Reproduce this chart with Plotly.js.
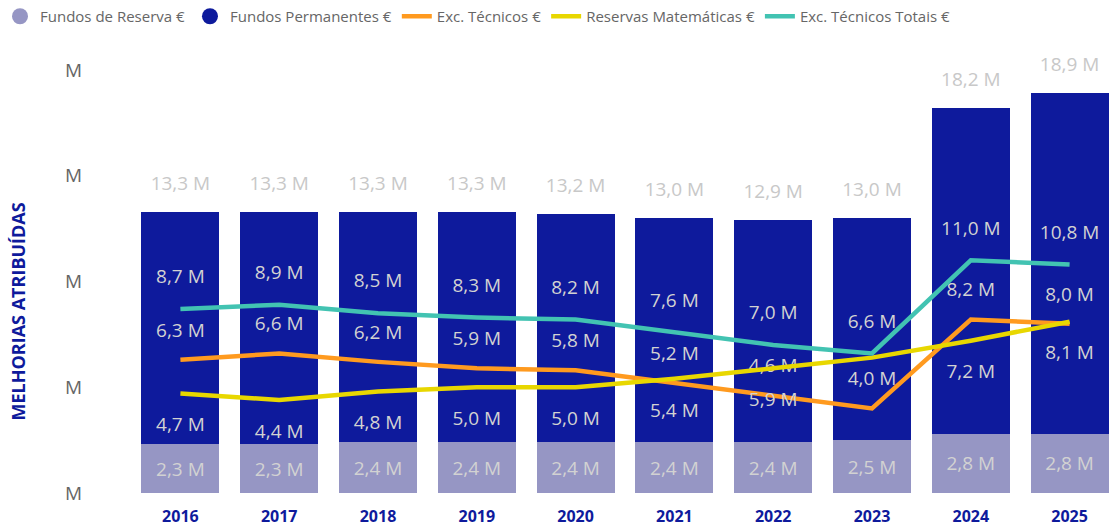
<!DOCTYPE html>
<html>
<head>
<meta charset="utf-8">
<script src="https://cdn.plot.ly/plotly-3.0.1.min.js"></script>
<style>html,body{margin:0;padding:0;background:#fff;}#chart{width:1119px;height:531px;}</style>
</head>
<body>
<div id="chart"></div>
<script>
const years = ['2016','2017','2018','2019','2020','2021','2022','2023','2024','2025'];
const fundosReserva = [2.3, 2.3, 2.4, 2.4, 2.4, 2.4, 2.4, 2.5, 2.8, 2.8];
const fundosPermanentes = [11.0, 11.0, 10.9, 10.9, 10.8, 10.6, 10.5, 10.5, 15.4, 16.1];
const totais = [13.3, 13.3, 13.3, 13.3, 13.2, 13.0, 12.9, 13.0, 18.2, 18.9];
const excTecnicos = [6.3, 6.6, 6.2, 5.9, 5.8, 5.2, 4.6, 4.0, 8.2, 8.0];
const reservasMatematicas = [4.7, 4.4, 4.8, 5.0, 5.0, 5.4, 5.9, 6.4, 7.2, 8.1];
const excTecnicosTotais = [8.7, 8.9, 8.5, 8.3, 8.2, 7.6, 7.0, 6.6, 11.0, 10.8];
const hiddenReservasLabels = ['2023'];
const yTickVals = [0, 5, 10, 15, 20];
const yTickText = ['M', 'M', 'M', 'M', 'M'];

const fmt = v => v.toFixed(1).replace('.', ',') + ' M';
const FONT = 'Open Sans, Noto Sans, sans-serif';
const labelColor = '#d2d2d2';
const LBL = 19;

function lineTraces(name, ys, color, pos, msize, texts) {
  return [
    {
      type: 'scatter', mode: 'lines', name: name, x: years, y: ys,
      line: {color: color, width: 4.5}, hoverinfo: 'skip', cliponaxis: false
    },
    {
      type: 'scatter', mode: 'markers+text', x: years, y: ys, showlegend: false,
      marker: {size: msize, opacity: 0, color: color},
      text: texts, textposition: pos,
      textfont: {family: FONT, size: LBL, color: labelColor}, cliponaxis: false, hoverinfo: 'skip'
    }
  ];
}

const traces = [
  {
    type: 'bar', name: 'Fundos de Reserva €', x: years, y: fundosReserva,
    marker: {color: '#9696C4'}, showlegend: false,
    text: fundosReserva.map(fmt), textposition: 'inside', insidetextanchor: 'middle',
    insidetextfont: {family: FONT, size: LBL, color: labelColor}, hoverinfo: 'skip'
  },
  {
    type: 'bar', name: 'Fundos Permanentes €', x: years, y: fundosPermanentes,
    marker: {color: '#0E1A9C'}, showlegend: false, hoverinfo: 'skip', textposition: 'none'
  },
  {
    type: 'scatter', mode: 'markers+text', x: years, y: totais, showlegend: false,
    marker: {size: 26, opacity: 0}, text: totais.map(fmt), textposition: 'top center',
    textfont: {family: FONT, size: LBL, color: '#c8c8c8'}, cliponaxis: false, hoverinfo: 'skip'
  },
  {
    type: 'scatter', mode: 'markers', name: 'Fundos de Reserva €', x: [null], y: [null],
    marker: {symbol: 'circle', size: 18, color: '#9696C4'}
  },
  {
    type: 'scatter', mode: 'markers', name: 'Fundos Permanentes €', x: [null], y: [null],
    marker: {symbol: 'circle', size: 18, color: '#0E1A9C'}
  },
  ...lineTraces('Exc. Técnicos €', excTecnicos, '#FF9A1F', 'top center', 28, excTecnicos.map(fmt)),
  ...lineTraces('Reservas Matemáticas €', reservasMatematicas, '#E8D700', 'bottom center', 36,
      reservasMatematicas.map((v, i) => hiddenReservasLabels.includes(years[i]) ? '' : fmt(v))),
  ...lineTraces('Exc. Técnicos Totais €', excTecnicosTotais, '#42C3B2', 'top center', 32, excTecnicosTotais.map(fmt))
];

const layout = {
  width: 1119, height: 531,
  margin: {l: 131, r: 0, t: 70, b: 38},
  paper_bgcolor: '#fff', plot_bgcolor: '#fff',
  barmode: 'stack', bargap: 0.21,
  font: {family: FONT, color: '#666'},
  showlegend: true,
  legend: {
    orientation: 'h', traceorder: 'normal', x: 0, xref: 'container', xanchor: 'left',
    y: 1, yref: 'container', yanchor: 'top',
    font: {family: FONT, size: 15, color: '#666'},
    itemwidth: 30, tracegroupgap: 0
  },
  xaxis: {
    type: 'category', range: [-0.5, 9.5], autorange: false,
    showgrid: false, zeroline: false, showline: false, ticks: '',
    ticklabelstandoff: 12,
    tickfont: {family: FONT, size: 16, color: '#0E1A9C', weight: 'bold'}
  },
  yaxis: {
    range: [0, 20], autorange: false, showgrid: false, zeroline: false, showline: false, ticks: '',
    tickvals: yTickVals, ticktext: yTickText, ticklabelstandoff: 48,
    tickfont: {family: FONT, size: 19, color: '#666'}
  },
  annotations: [{
    text: '<b>MELHORIAS ATRIBUÍDAS</b>', textangle: -90,
    xref: 'paper', yref: 'paper', x: -0.114, y: 0.43, xanchor: 'center', yanchor: 'middle',
    showarrow: false, font: {family: FONT, size: 18, color: '#0E1A9C'}
  }]
};

Plotly.newPlot('chart', traces, layout, {displayModeBar: false, staticPlot: true});
</script>
</body>
</html>
